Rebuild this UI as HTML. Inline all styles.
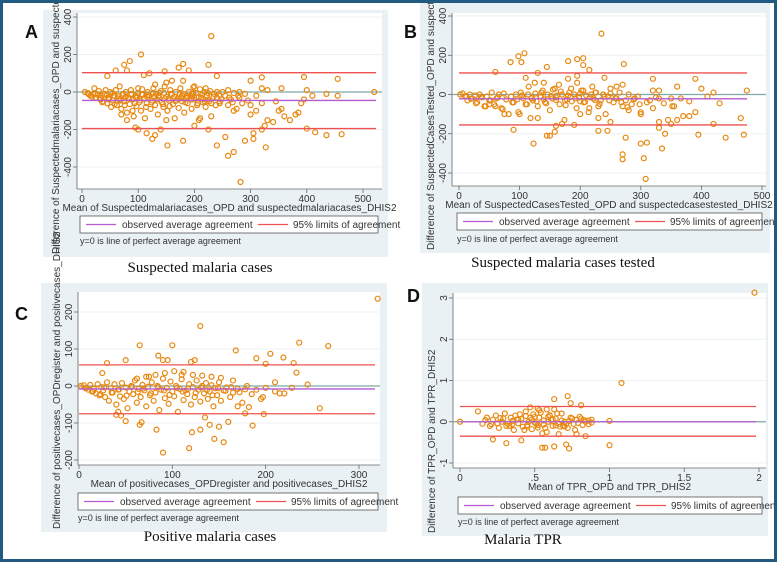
<!DOCTYPE html>
<html><head><meta charset="utf-8"><style>
html,body{margin:0;padding:0;background:#fff}
#wrap{position:relative;width:777px;height:562px;box-sizing:border-box;border:3px solid #215b82;background:#fff;overflow:hidden}
svg{position:absolute;left:-3px;top:-3px}
</style></head><body>
<div id="wrap">
<svg id="fig" width="777" height="562" xmlns="http://www.w3.org/2000/svg"></svg>
</div>
<script>
// ---- Panel A data ----
const aX=[230,105,85,180,75,225,172,190,60,80,147,120,320,395,455,45,240,300,110,282,260,270,327,152,240,305,290,255,180,125,130,115,100,95,225,305,320,400,415,435,462,325,340,360,380,390,395,350,310,300,270,140,150,200,210,230,245,80,70,90,520,410,435,455,400,355,330,320,240,260,280,200,220,160,180,130,150,100,
5,10,15,20,22,25,28,30,33,35,38,40,42,45,47,50,52,55,57,60,62,65,67,70,72,75,78,80,82,85,87,90,92,95,97,100,102,105,107,110,112,115,117,120,122,125,127,130,132,135,137,140,142,145,147,150,152,155,157,160,162,165,167,170,172,175,178,180,182,185,188,190,193,195,198,200,203,205,208,210,212,215,218,220,222,225,228,230,235,240,245,250,255,260,265,270,275,280,285,290,295,300,310,320,330,345,355,370,385,118,128,138,148,158,168,178,188,198,208,218,108,98,88,78,68,58,48,
12,18,24,32,36,44,48,54,58,64,68,74,76,84,88,94,96,104,106,114,116,124,126,134,136,144,146,154,156,164,166,174,176,184,186,194,196,204,206,214,216,224,226,234,238,244,248,262,268,278];
const aY=[298,200,165,150,145,145,130,115,115,115,110,100,78,80,70,85,85,60,90,-480,-340,-320,-295,-285,-285,-250,-260,-240,-260,-250,-230,-220,-200,-190,-200,-220,-200,-195,-215,-230,-225,-180,-160,-130,-120,-60,-40,-100,-100,-70,-100,-200,-150,-180,-140,-130,-60,-150,-120,-100,0,-20,-10,-20,10,20,10,20,0,10,0,30,20,60,60,40,50,20,
0,-5,-20,-10,20,-30,-15,5,-40,-20,-50,-10,10,-60,-30,0,-80,-45,-20,10,-70,-35,30,-90,-15,-50,0,-110,-30,-65,10,-40,-130,-20,-75,-5,-55,-100,15,-35,-140,-60,0,-20,-90,-45,20,-70,-10,-120,-30,5,-55,-80,30,-25,-100,-45,10,-15,-65,-140,0,-35,-85,20,-50,-10,-110,-30,-60,0,-20,-90,25,-40,-5,-70,-150,15,-30,-55,0,-80,-20,-40,5,-60,-10,-30,-50,0,-20,-70,-40,-5,-90,-30,-60,-10,-45,-120,-20,-60,-150,-50,-90,-150,-110,-15,-25,-5,-35,-10,-45,-20,-30,-5,-25,-50,-15,-30,-10,-25,-40,-20,-35,
-12,-25,-8,-30,-55,-18,-40,-5,-65,-22,-45,-10,-70,-35,-15,-60,-28,-45,-12,-80,-25,-55,-8,-40,-20,-65,-5,-35,-75,-25,-48,-12,-30,-55,-20,-40,-8,-28,-60,-15,-38,-5,-50,-25,-70,-15,-40,-30,-55,-20];
const aStats=[-45,103,-195];
// ---- Panel B data ----
const bX=[235,108,98,103,85,195,205,205,180,272,215,130,145,60,110,320,390,195,240,270,305,245,270,275,308,335,300,123,150,145,158,190,230,310,340,330,350,395,440,470,465,420,360,380,330,300,280,250,230,200,170,160,130,100,90,75,60,50,475,430,410,420,400,350,330,320,360,270,260,250,220,180,140,
2,6,10,14,18,22,26,30,34,38,42,46,50,54,58,62,66,70,74,78,82,86,90,94,98,102,106,110,114,118,122,126,130,134,138,142,146,150,154,158,162,166,170,174,178,182,186,190,194,198,202,206,210,214,218,222,226,230,234,238,242,246,250,255,260,265,270,275,280,285,290,295,300,310,320,330,345,355,370,390,115,125,135,155,165,175,185,195,205,215,225,120,140,160,180,200,
12,20,28,36,44,52,64,72,88,96,104,112,120,128,136,144,152,160,168,176,184,192,200,208,216,224,232,240,248,258,268,278,288,298,315,325,338,352,366,380];
const bY=[310,210,195,165,165,180,185,150,170,155,125,110,140,115,85,80,80,95,85,-330,-325,-185,-305,-220,-430,-275,-250,-250,-210,-210,-190,-155,-185,-245,-200,-170,-150,-205,-220,-205,-120,-150,-130,-110,-140,-100,-80,-140,-120,-100,-150,-160,-120,-100,-180,-100,-60,-50,20,-45,-10,10,30,-20,20,20,40,50,40,30,40,80,60,
0,5,-10,-30,0,-20,-5,-40,0,-15,-60,-10,-30,10,-50,-20,0,-70,5,-25,-100,-10,-40,0,-90,10,-20,-50,0,-120,-30,5,-60,-10,20,-40,0,-80,-20,30,-5,-50,0,-130,-25,10,-35,0,-70,-15,20,-40,-5,-90,0,-20,10,-60,-30,0,-100,-10,5,-40,-20,10,-60,-30,0,-50,-20,-10,-90,-40,-70,-20,-130,-60,-110,-90,40,60,-10,25,50,-30,30,60,20,-70,10,-20,-25,-15,-5,-35,
-8,-22,-45,-12,-60,-30,-15,-75,-40,-25,-5,-50,-18,-35,10,-45,-8,-28,15,-55,-12,-20,5,-38,-15,-28,-48,-10,-30,-18,-40,-65,-25,-50,-30,-15,-45,-60,-20,-35];
const bStats=[-22,110,-155];
// ---- Panel C data ----
const cX=[320,130,267,236,65,100,168,30,205,190,219,85,90,230,233,25,50,120,124,95,118,90,155,121,140,145,130,150,83,160,186,198,258,197,200,65,67,50,45,40,42,135,170,178,182,215,228,245,210,165,110,75,
2,5,8,10,12,14,16,18,20,22,24,26,28,30,32,34,36,38,40,42,44,46,48,50,52,54,56,58,60,62,64,66,68,70,72,74,76,78,80,82,84,86,88,90,92,94,96,98,100,102,104,106,108,110,112,114,116,118,120,122,124,126,128,130,132,134,136,138,140,142,144,146,148,150,152,155,158,162,165,170,175,180,185,190,195,200,210,220,62,72,82,92,102,112,122,132,142,152,
7,15,23,27,35,43,51,57,63,69,77,85,91,97,105,111,117,125,131,137,143,149,157,163,172,178];
const cY=[236,162,108,117,110,110,96,62,87,75,77,82,70,62,36,35,70,65,70,70,-168,-180,-152,-125,-105,-143,-118,-110,-118,-97,-107,-76,-60,-30,60,-105,-98,-95,-80,-78,-70,-85,-55,-74,-57,-20,-5,4,10,15,30,25,
0,2,-5,-10,3,-15,-8,-20,5,-25,-3,-12,-30,10,-40,-6,-18,5,-50,-10,-28,8,-35,-4,-60,-15,0,-22,15,-45,-8,-30,3,-12,-55,-2,-25,10,-40,-18,0,-65,-10,20,-33,-5,-48,12,-15,-28,0,-70,-8,18,-38,-12,-22,5,-50,-3,-30,15,-10,-42,0,-20,8,-35,-15,2,-55,-6,-25,10,-40,-12,-4,-30,-18,-8,-45,0,-22,-10,-35,-5,-15,-20,20,25,30,35,40,38,30,28,25,22,
-6,-14,-22,-4,-18,-9,-26,-2,-16,-7,-20,-3,-12,-24,-5,-15,-8,-19,-4,-11,-25,-6,-13,-3,-17,-9];
const cStats=[-8,57,-75];
// ---- Panel D data ----
const dX=[1.97,1.08,0.63,0.72,0.74,0.81,1.0,1.0,0.71,0.73,0.55,0.57,0.63,0.41,0.31,0.22,0,0.12,0.88,0.84,0.47,0.52,0.58,0.66,0.78,
0.15,0.18,0.2,0.22,0.24,0.26,0.28,0.3,0.32,0.34,0.36,0.38,0.4,0.42,0.44,0.46,0.48,0.5,0.52,0.54,0.56,0.58,0.6,0.62,0.64,0.66,0.68,0.7,0.72,0.74,0.76,0.78,0.8,0.82,0.84,0.86,0.88,0.33,0.37,0.43,0.47,0.51,0.53,0.57,0.61,0.65,0.69,0.73,0.77,0.81,0.45,0.49,0.55,0.59,0.63,0.67,0.39,0.35,0.29,0.25,
0.17,0.21,0.27,0.31,0.35,0.39,0.41,0.45,0.48,0.5,0.53,0.56,0.59,0.62,0.64,0.68,0.71,0.75,0.79,0.83,0.86,0.44,0.52,0.6,0.7];
const dY=[3.13,0.94,0.55,0.62,0.45,0.4,0.02,-0.57,-0.55,-0.65,-0.63,-0.63,-0.6,-0.45,-0.52,-0.43,0,0.25,0.05,-0.35,0.35,0.32,0.3,-0.3,-0.3,
-0.05,0.1,-0.1,0.05,0.15,-0.15,0.0,0.2,-0.05,0.1,-0.2,0.05,0.18,-0.12,0.25,0.0,-0.18,0.12,-0.08,0.22,0.03,-0.25,0.15,-0.1,0.08,-0.05,0.2,0.0,-0.15,0.1,-0.05,0.05,0.12,-0.08,0.0,0.03,-0.02,-0.1,0.15,-0.2,0.1,-0.05,0.28,-0.15,0.05,0.2,-0.1,0.02,-0.2,0.08,-0.08,0.18,-0.28,0.12,0.3,-0.12,0.06,-0.06,0.08,-0.04,
0.04,-0.06,0.09,-0.1,0.02,-0.04,0.07,-0.12,0.05,-0.02,0.1,-0.07,0.0,0.06,-0.09,0.03,-0.05,0.08,-0.03,0.04,-0.06,0.14,-0.14,0.16,-0.11];
const dStats=[0.0,0.37,-0.35];

const NS="http://www.w3.org/2000/svg";
const fig=document.getElementById('fig');
function mk(tag,attrs,parent){const e=document.createElementNS(NS,tag);for(const k in attrs)e.setAttribute(k,attrs[k]);(parent||fig).appendChild(e);return e;}
function txt(s,x,y,attrs,parent){const e=mk('text',Object.assign({x:x,y:y,'font-family':'Liberation Sans, sans-serif','font-size':10,fill:'#333'},attrs),parent);e.textContent=s;return e;}

const panels=[
 {id:'a',letter:'A',bg:[43,10,345,247],plot:[77,13,305,176],x0:0,x1:500,px0:82,px1:363,y0:-400,y1:400,py0:167,py1:17,
  xt:[0,100,200,300,400,500],xl:['0','100','200','300','400','500'],yt:[-400,-200,0,200,400],lineEnd:376,
  X:aX,Y:aY,S:aStats,xtitle:'Mean of Suspectedmalariacases_OPD and suspectedmalariacases_DHIS2',
  ytitle:'Difference of Suspectedmalariacases_OPD and suspectedmalariacases_DHIS2',leg:[80,216,298,17],note:241,cap:'Suspected malaria cases',capX:200,capY:272,lx:25,ly:38},
 {id:'b',letter:'B',bg:[420,3,350,250],plot:[452,13,314,173],x0:0,x1:500,px0:459,px1:762,y0:-400,y1:400,py0:173,py1:16,
  xt:[0,100,200,300,400,500],xl:['0','100','200','300','400','500'],yt:[-400,-200,0,200,400],lineEnd:747,
  X:bX,Y:bY,S:bStats,xtitle:'Mean of SuspectedCasesTested_OPD and suspectedcasestested_DHIS2',
  ytitle:'Difference of SuspectedCasesTested_OPD and suspectedcasestested_DHIS2',leg:[457,213,305,17],note:239,cap:'Suspected malaria cases tested',capX:563,capY:267,lx:404,ly:38},
 {id:'c',letter:'C',bg:[41,283,346,249],plot:[78,292,302,173],x0:0,x1:300,px0:79,px1:359,y0:-200,y1:200,py0:460,py1:312,
  xt:[0,100,200,300],xl:['0','100','200','300'],yt:[-200,-100,0,100,200],lineEnd:375,
  X:cX,Y:cY,S:cStats,xtitle:'Mean of positivecases_OPDregister and positivecases_DHIS2',
  ytitle:'Difference of positivecases_OPDregister and positivecases_DHIS2',leg:[78,493,300,17],note:518,cap:'Positive malaria cases',capX:210,capY:541,lx:15,ly:320},
 {id:'d',letter:'D',bg:[422,283,346,253],plot:[453,293,313,175],x0:0,x1:2,px0:460,px1:759,y0:-1,y1:3,py0:463,py1:298,
  xt:[0,0.5,1,1.5,2],xl:['0','.5','1','1.5','2'],yt:[-1,0,1,2,3],lineEnd:756,
  X:dX,Y:dY,S:dStats,xtitle:'Mean of TPR_OPD and TPR_DHIS2',
  ytitle:'Difference of TPR_OPD and TPR_DHIS2',leg:[458,497,304,17],note:522,cap:'Malaria TPR',capX:523,capY:544,lx:407,ly:302}
];

panels.forEach(p=>{
 const g=mk('g',{});
 
 
 const sx=v=>p.px0+(v-p.x0)*(p.px1-p.px0)/(p.x1-p.x0);
 const sy=v=>p.py0+(v-p.y0)*(p.py1-p.py0)/(p.y1-p.y0);
 const bg=mk('rect',{x:p.bg[0],y:p.bg[1],width:p.bg[2],height:p.bg[3],fill:'#eaf1f4'},g);
 
 
 const pr=mk('rect',{x:p.plot[0],y:p.plot[1],width:p.plot[2],height:p.plot[3],fill:'#fff'},g);
 
 
 const left=p.plot[0],bot=p.plot[1]+p.plot[3],right=p.plot[0]+p.plot[2];
 p.yt.forEach(v=>{
  const yy=sy(v);
  mk('line',{x1:left,x2:right,y1:yy,y2:yy,stroke:'#eef2f3','stroke-width':1},g);
  mk('line',{x1:left-4,x2:left,y1:yy,y2:yy,stroke:'#666','stroke-width':0.8},g);
  const t=txt(String(v),left-6,yy,{transform:'rotate(-90 '+(left-6)+' '+yy+')','text-anchor':'middle'},g);
  
  
 });
 p.xt.forEach((v,i)=>{
  const xx=sx(v);
  mk('line',{x1:xx,x2:xx,y1:bot,y2:bot+4,stroke:'#666','stroke-width':0.8},g);
  const t=txt(p.xl[i],xx,bot+13,{'text-anchor':'middle'},g);
  
  
 });
 mk('line',{x1:left,x2:left,y1:p.plot[1],y2:bot,stroke:'#666','stroke-width':0.8},g);
 mk('line',{x1:left,x2:right,y1:bot,y2:bot,stroke:'#666','stroke-width':0.8},g);
 const z=mk('line',{x1:left,x2:right,y1:sy(0),y2:sy(0),stroke:'#7da9a6','stroke-width':1.2},g);
 
 
 const pts=mk('g',{},g);
 
 
 p.X.forEach((xv,i)=>{
  const c=mk('circle',{cx:sx(xv),cy:sy(p.Y[i]),r:2.5,fill:'none',stroke:'#e8870f','stroke-width':1.2},pts);
  
  
 });
 const ml=mk('line',{x1:sx(0),x2:p.lineEnd,y1:sy(p.S[0]),y2:sy(p.S[0]),stroke:'#b55ad0','stroke-width':1.3},g);
 
 
 [p.S[1],p.S[2]].forEach(v=>{
  const l=mk('line',{x1:sx(0),x2:p.lineEnd,y1:sy(v),y2:sy(v),stroke:'#f0504f','stroke-width':1.3},g);
  
  
 });
 const xt=txt(p.xtitle,(left+right)/2,bot+22,{'text-anchor':'middle','font-size':10},g);
 
 
 const tx=left-18, ty=p.bg[1]+p.bg[3]-3;
 const yt=txt(p.ytitle,tx,ty,{transform:'rotate(-90 '+tx+' '+ty+')','font-size':10},g);
 
 
 const L=p.leg;
 const lg=mk('g',{},g);
 
 
 mk('rect',{x:L[0],y:L[1],width:L[2],height:L[3],fill:'#fff',stroke:'#555','stroke-width':0.8},lg);
 const my=L[1]+L[3]/2;
 mk('line',{x1:L[0]+6,x2:L[0]+36,y1:my,y2:my,stroke:'#b55ad0','stroke-width':1.3},lg);
 txt('observed average agreement',L[0]+42,my+3.5,{},lg);
 mk('line',{x1:L[0]+178,x2:L[0]+208,y1:my,y2:my,stroke:'#f0504f','stroke-width':1.3},lg);
 txt('95% limits of agreement',L[0]+213,my+3.5,{},lg);
 const nt=txt('y=0 is line of perfect average agreement',L[0],p.note+3,{'font-size':9},g);
 
 
 const cp=txt(p.cap,p.capX,p.capY,{'text-anchor':'middle','font-family':'Liberation Serif, serif','font-size':15,fill:'#111'},g);
 
 
 const lt=txt(p.letter,p.lx,p.ly,{'font-weight':'bold','font-size':18,fill:'#111'},g);
 
 
});
</script>
</body></html>
